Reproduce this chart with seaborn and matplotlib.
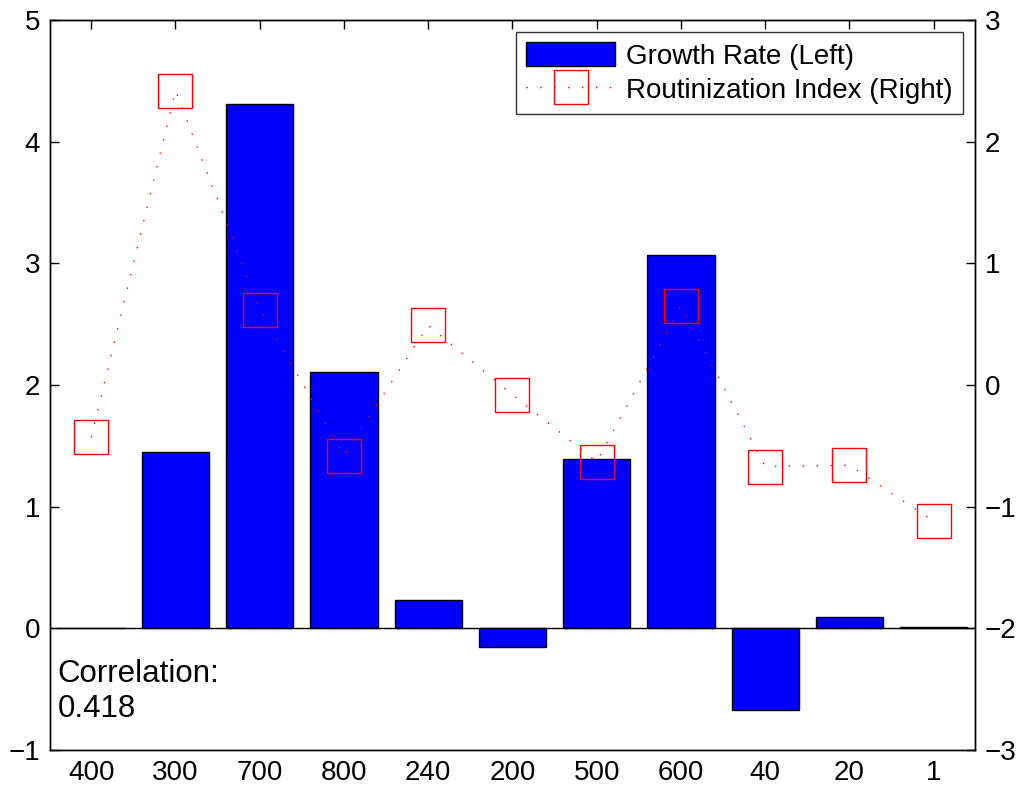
import numpy as np
import pandas as pd
import matplotlib
matplotlib.use("Agg")
import matplotlib.pyplot as plt
import seaborn as sns
from matplotlib.lines import Line2D
from matplotlib.patches import Patch

categories = ["400", "300", "700", "800", "240", "200", "500", "600", "40", "20", "1"]
growth_rate = [0.002, 1.45, 4.31, 2.11, 0.23, -0.15, 1.39, 3.07, -0.67, 0.09, 0.01]
routinization = [-0.43, 2.42, 0.62, -0.58, 0.49, -0.08, -0.63, 0.65, -0.67, -0.66, -1.12]
corr_text = "Correlation:\n0.418"

sns.set_theme(style="white")
plt.rcParams['font.family'] = ['Liberation Sans', 'DejaVu Sans']
plt.rcParams['font.size'] = 20
plt.rcParams['text.color'] = 'black'
plt.rcParams['xtick.color'] = 'black'
plt.rcParams['ytick.color'] = 'black'

FS = 20

fig = plt.figure(figsize=(10.26, 7.96), dpi=100)
ax = fig.add_axes([0.0487, 0.0578, 0.9016, 0.9171])

df = pd.DataFrame({"cat": categories, "growth": growth_rate, "rout": routinization})
sns.barplot(data=df, x="cat", y="growth", order=categories, color="#0000ff",
            saturation=1, width=0.8, edgecolor="black", linewidth=1, ax=ax, errorbar=None)
ax.axhline(0, color="black", lw=1, zorder=3)
ax.set_xlim(-0.49, 10.49)
ax.set_ylim(-1, 5)
ax.set_yticks(range(-1, 6))
ax.set_xlabel("")
ax.set_ylabel("")
ax.tick_params(axis="both", direction="in", length=6.5, width=1, labelsize=FS,
               top=True, colors="black", pad=7)
ax.tick_params(axis="y", right=False)
for s in ax.spines.values():
    s.set_color("black")
    s.set_linewidth(1)
ax.set_yticklabels([str(v).replace("-", "\u2212") for v in range(-1, 6)])

ax2 = ax.twinx()
pos = np.arange(len(categories))
sns.lineplot(x=pos, y=routinization, ax=ax2, color="red", lw=1,
             linestyle=(0, (1, 9)), marker="s", markersize=24,
             markerfacecolor="none", markeredgecolor="red", markeredgewidth=1)
ax2.set_ylim(-3, 3)
ax2.set_yticks(range(-3, 4))
ax2.set_yticklabels([str(v).replace("-", "\u2212") for v in range(-3, 4)])
ax2.tick_params(axis="y", direction="in", length=6.5, width=1, labelsize=FS,
                colors="black", pad=7)
ax2.set_xlim(-0.49, 10.49)
for s in ax2.spines.values():
    s.set_color("black")
    s.set_linewidth(1)

ax.text(-0.40, -0.52, corr_text, fontsize=22.5, va="center", ha="left",
        linespacing=1.2, color="black")

handles = [Patch(facecolor="#0000ff", edgecolor="black", lw=1),
           Line2D([], [], color="red", lw=1, linestyle=(0, (1, 9)), marker="s",
                  markersize=24, markerfacecolor="none", markeredgecolor="red")]
leg = ax2.legend(handles, ["Growth Rate (Left)", "Routinization Index (Right)"],
                 loc="upper right", fontsize=FS, frameon=True, fancybox=False,
                 edgecolor="black", handlelength=3.2, handleheight=0.95,
                 borderaxespad=0.45, labelspacing=0.25, borderpad=0.35, handletextpad=0.4)
leg.get_frame().set_linewidth(1)
for t in leg.get_texts():
    t.set_color("black")

fig.savefig("out.png", dpi=100)
